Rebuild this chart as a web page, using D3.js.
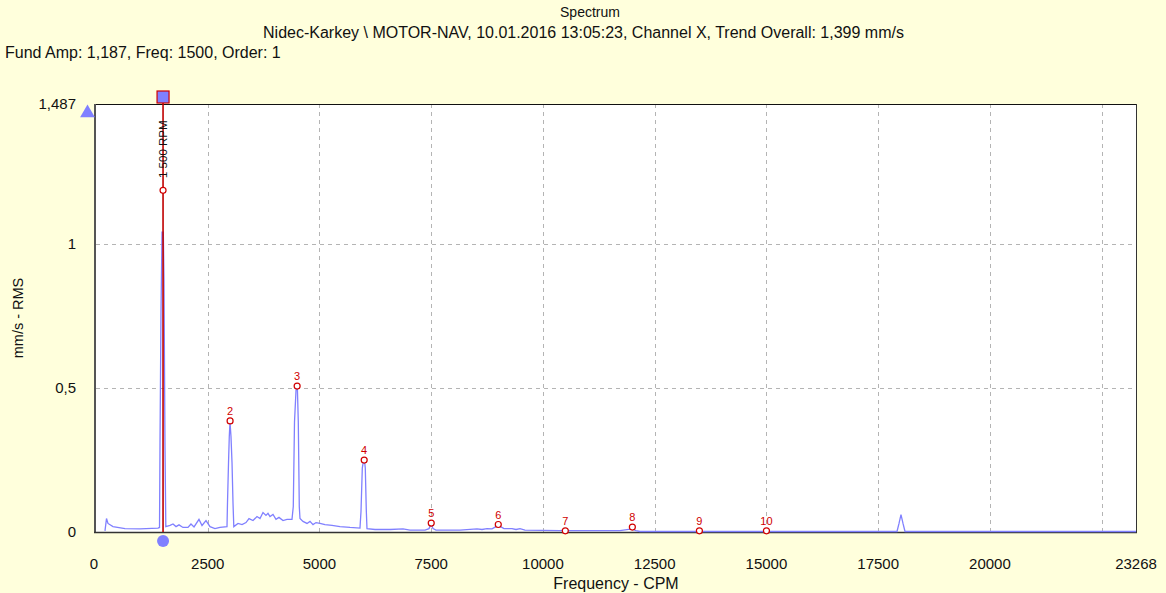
<!DOCTYPE html>
<html><head><meta charset="utf-8">
<script src="https://cdn.jsdelivr.net/npm/d3@7"></script>
<style>
html,body{margin:0;padding:0;background:#ffffdc;}
svg{display:block;font-family:"Liberation Sans",Arial,sans-serif;}
</style></head>
<body>
<svg id="chart" width="1166" height="593"></svg>
<script>
// ---- data ----
const titleLines = ["Spectrum", "Nidec-Karkey \\ MOTOR-NAV, 10.01.2016 13:05:23, Channel X, Trend Overall: 1,399 mm/s"];
const infoLine = "Fund Amp: 1,187, Freq: 1500, Order: 1";
const xTickValues = [0, 2500, 5000, 7500, 10000, 12500, 15000, 17500, 20000, 23268];
const xGridValues = [2500, 5000, 7500, 10000, 12500, 15000, 17500, 20000, 22500];
const yTickValues = [0, 0.5, 1, 1.487];
const yTickLabels = ["0", "0,5", "1", "1,487"];
const yGridValues = [0.5, 1];
const xMax = 23268, yMax = 1.487;

const spectrumFreq = [201,235,268,380,649,984,1387,1421,1432,1454,1477,1506,1521,1544,1562,1656,1723,1790,1857,1946,2058,2125,2193,2304,2372,2461,2551,2662,2774,2931,2942,2965,2982,2998,3020,3043,3065,3083,3177,3267,3356,3423,3513,3602,3669,3736,3803,3848,3893,3960,4027,4094,4184,4273,4385,4414,4441,4475,4504,4526,4548,4564,4631,4721,4788,4855,4922,5012,5123,5280,5459,5683,5906,5929,5958,5985,6007,6025,6048,6063,6242,6578,6869,7025,7361,7450,7495,7540,7607,8144,8524,8636,8748,8860,8949,9005,9061,9128,9307,9397,9486,9598,10381,10493,10605,11723,11992,12081,12171,16489,17921,17966,18010,18055,18100,23268];
const spectrumAmp = [0.002,0.045,0.028,0.017,0.010,0.009,0.012,0.014,0.31,0.76,1.04,1.04,0.875,0.29,0.017,0.021,0.026,0.017,0.023,0.014,0.014,0.026,0.016,0.042,0.021,0.038,0.017,0.010,0.014,0.017,0.10,0.24,0.33,0.38,0.33,0.24,0.10,0.017,0.028,0.024,0.031,0.045,0.038,0.052,0.045,0.066,0.056,0.063,0.052,0.059,0.042,0.049,0.038,0.042,0.042,0.087,0.38,0.49,0.507,0.38,0.087,0.045,0.035,0.028,0.035,0.024,0.031,0.028,0.024,0.021,0.017,0.014,0.012,0.07,0.22,0.247,0.247,0.22,0.07,0.010,0.007,0.007,0.009,0.005,0.005,0.010,0.025,0.010,0.005,0.005,0.009,0.007,0.010,0.009,0.017,0.024,0.016,0.010,0.010,0.007,0.010,0.005,0.003,0.005,0.003,0.003,0.009,0.003,0,0,0,0.028,0.059,0.028,0,0];

const harmonicOrders = [1,2,3,4,5,6,7,8,9,10];
const harmonicFreqs = [1500,3000,4500,6000,7500,9000,10500,12000,13500,15000];
const harmonicAmps = [1.187,0.386,0.507,0.25,0.031,0.026,0.004,0.017,0.004,0.004];
const cursorFreq = 1500;
const cursorLabel = "1 500 RPM";

// ---- layout ----
const svg = d3.select("#chart");
const L = 96, R = 1136, T = 104, B = 532;
const x = d3.scaleLinear().domain([0, xMax]).range([L, R]);
const y = d3.scaleLinear().domain([0, yMax]).range([B, T]);
const blue = "#8080ff", red = "#d00000";

svg.append("rect").attr("width",1166).attr("height",593).attr("fill","#ffffdc");
svg.append("rect").attr("x",L).attr("y",T).attr("width",R-L).attr("height",B-T).attr("fill","#fff");

// grid
svg.append("g").selectAll("line").data(xGridValues).join("line")
  .attr("x1",d=>Math.round(x(d))+0.5).attr("x2",d=>Math.round(x(d))+0.5)
  .attr("y1",T).attr("y2",B).attr("stroke","#b4b4b4").attr("stroke-dasharray","4,4");
svg.append("g").selectAll("line").data(yGridValues).join("line")
  .attr("y1",d=>Math.round(y(d))+0.5).attr("y2",d=>Math.round(y(d))+0.5)
  .attr("x1",L).attr("x2",R).attr("stroke","#b4b4b4").attr("stroke-dasharray","4,4");

// frame
svg.append("line").attr("x1",L-1).attr("x2",R+1).attr("y1",T+0.5).attr("y2",T+0.5).attr("stroke","#111");
svg.append("line").attr("x1",R+0.5).attr("x2",R+0.5).attr("y1",T).attr("y2",B).attr("stroke","#333");
svg.append("line").attr("x1",L-1).attr("x2",L-1).attr("y1",T).attr("y2",B+1).attr("stroke","#555").attr("stroke-width",2);
svg.append("line").attr("x1",L-2).attr("x2",R+1).attr("y1",B+0.5).attr("y2",B+0.5).attr("stroke","#333").attr("stroke-width",1.5);

// spectrum
const pts = spectrumFreq.map((f,i)=>[f, spectrumAmp[i]]);
svg.append("path").datum(pts)
  .attr("d", d3.line().x(d=>x(d[0])).y(d=>y(d[1])-0.5))
  .attr("fill","none").attr("stroke",blue).attr("stroke-width",1.3);

// cursor
svg.append("line").attr("x1",x(cursorFreq)).attr("x2",x(cursorFreq)).attr("y1",T-1).attr("y2",B)
  .attr("stroke","#c00000").attr("stroke-width",1.6);
svg.append("rect").attr("x",x(cursorFreq)-6).attr("y",T-13).attr("width",12).attr("height",12)
  .attr("fill",blue).attr("stroke","#d00000").attr("stroke-width",1.2);
svg.append("circle").attr("cx",x(cursorFreq)).attr("cy",B+9).attr("r",6).attr("fill",blue);
svg.append("path").attr("d",d3.symbol().type(d3.symbolTriangle).size(95)())
  .attr("transform",`translate(${L-8.5},${T+9})`).attr("fill",blue);
svg.append("text").attr("transform",`translate(${x(cursorFreq)+4},${T+74}) rotate(-90)`)
  .attr("font-size",11.5).attr("fill","#111").text(cursorLabel);

// harmonic markers
const hg = svg.append("g");
harmonicOrders.forEach((o,i)=>{
  const cx = x(harmonicFreqs[i]), cy = y(harmonicAmps[i]);
  hg.append("circle").attr("cx",cx).attr("cy",cy).attr("r",3)
    .attr("fill","#fff").attr("stroke",red).attr("stroke-width",1.2);
  if (o > 1) hg.append("text").attr("x",cx).attr("y",cy-6).attr("text-anchor","middle")
    .attr("font-size",11).attr("fill",red).text(o);
});

// axes labels
svg.append("g").selectAll("text").data(xTickValues).join("text")
  .attr("x",d=>x(d)-(d===0?2:0)).attr("y",569).attr("text-anchor","middle")
  .attr("font-size",15).attr("fill","#111").text(d=>d);
svg.append("g").selectAll("text").data(yTickValues).join("text")
  .attr("x",76).attr("y",d=>y(d)+5).attr("text-anchor","end")
  .attr("font-size",15).attr("fill","#111").text((d,i)=>yTickLabels[i]);

svg.append("text").attr("x",616).attr("y",589).attr("text-anchor","middle")
  .attr("font-size",16).attr("fill","#111").text("Frequency - CPM");
svg.append("text").attr("transform","translate(23,318) rotate(-90)").attr("text-anchor","middle")
  .attr("font-size",14.5).attr("fill","#111").text("mm/s - RMS");

svg.append("text").attr("x",590).attr("y",17).attr("text-anchor","middle")
  .attr("font-size",14).attr("fill","#111").text(titleLines[0]);
svg.append("text").attr("x",583.5).attr("y",38).attr("text-anchor","middle")
  .attr("font-size",16).attr("fill","#111").text(titleLines[1]);
svg.append("text").attr("x",5).attr("y",58)
  .attr("font-size",16).attr("fill","#111").text(infoLine);
</script>
</body></html>
